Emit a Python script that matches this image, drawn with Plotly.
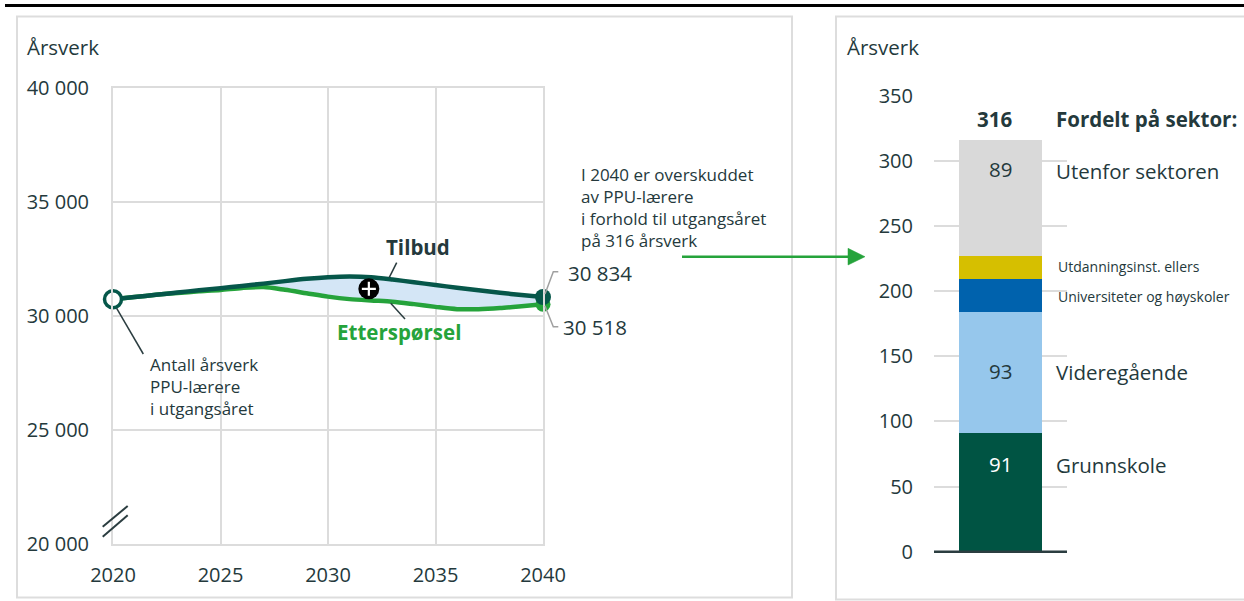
import plotly.graph_objects as go

# ---------------- data ----------------
years = list(range(2020, 2041))
tilbud = [30732, 30830, 30930, 31030, 31130, 31220, 31320, 31420, 31530, 31630, 31700,
          31730, 31700, 31600, 31480, 31360, 31240, 31130, 31020, 30920, 30834]
ettersporsel = [30732, 30830, 30930, 31010, 31080, 31140, 31230, 31270, 31150, 31000, 30850,
                30740, 30680, 30630, 30520, 30400, 30300, 30300, 30350, 30430, 30518]
y_ticks = [20000, 25000, 30000, 35000, 40000]
y_ticklabels = ["20 000", "25 000", "30 000", "35 000", "40 000"]
x_ticks = [2020, 2025, 2030, 2035, 2040]

sectors = ["Grunnskole", "Videregående", "Universiteter og høyskoler",
           "Utdanningsinst. ellers", "Utenfor sektoren"]
sector_values = [91, 93, 25, 18, 89]
total_value = 316
bar_ticks = [0, 50, 100, 150, 200, 250, 300, 350]

# ---------------- styles ----------------
W, H = 1244, 601
FONT = "Open Sans"
TXT = "#24393c"
DARK = "#06574a"
GREEN = "#25a33b"
FILL = "#d4e6f6"
GRID = "#dcdcdc"
sector_colors = ["#005443", "#96c7ec", "#0062ad", "#d6bf00", "#d9d9d9"]


def px(x):
    return x / W


def py(y):
    return 1 - y / H


fig = go.Figure()

# left chart lines
fig.add_trace(go.Scatter(x=years, y=ettersporsel, mode="lines",
                         line=dict(color=GREEN, width=4.5, shape="spline", smoothing=0.8),
                         xaxis="x", yaxis="y", hoverinfo="skip"))
fig.add_trace(go.Scatter(x=years, y=tilbud, mode="lines", fill="tonexty", fillcolor=FILL,
                         line=dict(color=DARK, width=4.5, shape="spline", smoothing=0.8),
                         xaxis="x", yaxis="y", hoverinfo="skip"))
# end markers
fig.add_trace(go.Scatter(x=[years[-1]], y=[ettersporsel[-1]], mode="markers",
                         marker=dict(color=GREEN, size=15), cliponaxis=False,
                         xaxis="x", yaxis="y", hoverinfo="skip"))
fig.add_trace(go.Scatter(x=[years[-1]], y=[tilbud[-1]], mode="markers",
                         marker=dict(color=DARK, size=16), cliponaxis=False,
                         xaxis="x", yaxis="y", hoverinfo="skip"))
# start marker
fig.add_trace(go.Scatter(x=[years[0]], y=[tilbud[0]], mode="markers",
                         marker=dict(color="white", size=17, line=dict(color=DARK, width=3.5)),
                         cliponaxis=False, xaxis="x", yaxis="y", hoverinfo="skip"))
# plus marker between the lines
i_mid = years.index(2032)
xm = 2031.9
ym = (tilbud[i_mid] + ettersporsel[i_mid]) / 2
fig.add_trace(go.Scatter(x=[xm], y=[ym], mode="markers",
                         marker=dict(color="black", size=21),
                         xaxis="x", yaxis="y", hoverinfo="skip"))
fig.add_trace(go.Scatter(x=[xm], y=[ym], mode="markers",
                         marker=dict(symbol="cross-thin", size=10, line=dict(color="white", width=2.2)),
                         xaxis="x", yaxis="y", hoverinfo="skip"))

# right chart stacked bar
for name, val, col in zip(sectors, sector_values, sector_colors):
    fig.add_trace(go.Bar(x=[0], y=[val], name=name, marker=dict(color=col, line=dict(width=0)),
                         width=0.63, xaxis="x2", yaxis="y2", hoverinfo="skip"))

tickfont = dict(family=FONT, size=20, color=TXT)
fig.update_layout(
    template="none",
    width=W, height=H, margin=dict(l=0, r=0, t=0, b=0, pad=0, autoexpand=False),
    paper_bgcolor="white", plot_bgcolor="white", showlegend=False,
    barmode="stack", font=dict(family=FONT, color=TXT),
    xaxis=dict(domain=[px(113), px(543)], range=[2020, 2040], tickvals=x_ticks,
               ticktext=[str(t) for t in x_ticks], tickfont=tickfont,
               showgrid=True, gridcolor=GRID, gridwidth=2,
               showline=True, mirror=True, linecolor=GRID, linewidth=2,
               ticks="", ticklabelstandoff=12, zeroline=False, fixedrange=True,
               automargin=False),
    yaxis=dict(domain=[py(544), py(88)], range=[20000, 40000], tickvals=y_ticks,
               ticktext=y_ticklabels, tickfont=tickfont,
               showgrid=True, gridcolor=GRID, gridwidth=2,
               showline=True, mirror=True, linecolor=GRID, linewidth=2,
               ticks="", ticklabelstandoff=18, zeroline=False, fixedrange=True,
               automargin=False),
    xaxis2=dict(domain=[px(934), px(1067)], range=[-0.5, 0.5], showticklabels=False,
                showgrid=False, zeroline=False, showline=False, anchor="y2", fixedrange=True,
                automargin=False),
    yaxis2=dict(domain=[py(551.7), py(95.7)], range=[0, 350], tickvals=bar_ticks,
                tickfont=tickfont, showgrid=True, gridcolor=GRID, gridwidth=2,
                zeroline=False, showline=False, ticks="", ticklabelstandoff=20,
                anchor="x2", fixedrange=True, automargin=False),
)

shapes = []
# top black rule
shapes.append(dict(type="line", xref="paper", yref="paper", x0=px(5), x1=1.01,
                   y0=py(5.5), y1=py(5.5), line=dict(color="black", width=3)))
# panel frames
shapes.append(dict(type="rect", xref="paper", yref="paper", x0=px(17), x1=px(792),
                   y0=py(597.5), y1=py(16.5), line=dict(color="#dddddd", width=2), layer="below"))
shapes.append(dict(type="rect", xref="paper", yref="paper", x0=px(836), x1=px(1270),
                   y0=py(599.5), y1=py(16.5), line=dict(color="#dddddd", width=2), layer="below"))
# baseline of bar chart
shapes.append(dict(type="line", xref="paper", yref="paper", x0=px(934), x1=px(1067),
                   y0=py(551.7), y1=py(551.7), line=dict(color="#2b3d40", width=2.5)))


def seg(x0, y0, x1, y1, color, width):
    return dict(type="line", xref="paper", yref="paper", x0=px(x0), y0=py(y0),
                x1=px(x1), y1=py(y1), line=dict(color=color, width=width))


def path(points, color, width, fill=None):
    d = "M " + " L ".join(f"{px(a)},{py(b)}" for a, b in points)
    s = dict(type="path", xref="paper", yref="paper", path=d + (" Z" if fill else ""),
             line=dict(color=color, width=width))
    if fill:
        s["fillcolor"] = fill
    return s


# axis break marks
shapes.append(seg(102.7, 526.7, 127.7, 506, "#2b3d40", 2))
shapes.append(seg(102.7, 536.7, 127.7, 515.3, "#2b3d40", 2))
# leader lines
shapes.append(seg(396.7, 262.7, 389.3, 277.3, "#2b3d40", 1.5))
shapes.append(seg(390.7, 303.3, 405, 319, "#2b3d40", 1.5))
shapes.append(seg(116.7, 308.3, 143.3, 354, "#2b3d40", 1.5))
shapes.append(path([(545, 294), (553.3, 271.7), (558.3, 271.7)], "#a0a0a0", 1.5))
shapes.append(path([(545, 306), (553.3, 326.7), (558.3, 326.7)], "#a0a0a0", 1.5))
# arrow
shapes.append(seg(682, 256.7, 850, 256.7, GREEN, 2.5))
shapes.append(path([(848, 248.3), (865, 256.7), (848, 265)], GREEN, 0.5, fill=GREEN))
fig.update_layout(shapes=shapes)

ann = []


def text(x, y, s, size=20.5, color=TXT, anchor="left", bold=False, align="left"):
    ann.append(dict(xref="paper", yref="paper", x=px(x), y=py(y), text=(f"<b>{s}</b>" if bold else s),
                    showarrow=False, xanchor=anchor, yanchor="middle", align=align,
                    font=dict(family=FONT, size=size, color=color), borderpad=0))


text(26, 47, "Årsverk")
text(846, 47, "Årsverk")
text(418, 247, "Tilbud", anchor="center", bold=True)
text(399, 332, "Etterspørsel", color=GREEN, anchor="center", bold=True)
text(567, 272.7, f"{tilbud[-1]:,}".replace(",", " "))
text(562, 326.7, f"{ettersporsel[-1]:,}".replace(",", " "))
text(149, 386.5, "Antall årsverk<br>PPU-lærere<br>i utgangsåret", size=17)
text(580, 207.5, f"I 2040 er overskuddet<br>av PPU-lærere<br>i forhold til utgangsåret<br>på {total_value} årsverk", size=17)
text(995, 118.5, str(total_value), anchor="center", bold=True)
text(1055, 118.5, "Fordelt på sektor:", bold=True)

# bar segment labels
ann_y = {  # label pixel rows
    "Grunnskole": 465, "Videregående": 372.3, "Universiteter og høyskoler": 296.7,
    "Utdanningsinst. ellers": 266.7, "Utenfor sektoren": 170.7,
}
small = {"Universiteter og høyskoler", "Utdanningsinst. ellers"}
for name, val in zip(sectors, sector_values):
    yv = ann_y[name]
    if name in small:
        text(1057, yv, name, size=14)
    else:
        text(1055, yv, name)
        text(1000, yv - 1.5, str(val), anchor="center",
             color=("white" if name == "Grunnskole" else TXT))

fig.update_layout(annotations=ann)
fig.write_html(
    "out.html",
    config={"displayModeBar": False, "staticPlot": True},
    post_script="document.body.style.margin='0';document.documentElement.style.overflow='hidden';",
)
